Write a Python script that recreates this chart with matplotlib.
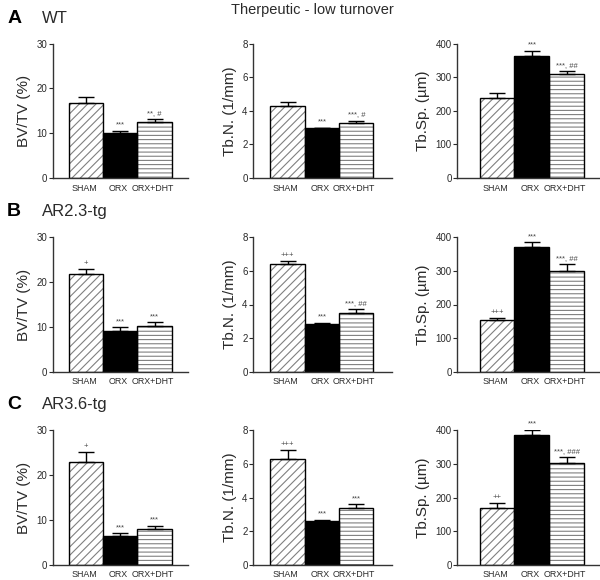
import numpy as np
import matplotlib.pyplot as plt

plt.rcParams['font.family'] = ['Liberation Sans', 'DejaVu Sans']
plt.rcParams['hatch.linewidth'] = 0.8

groups = ['SHAM', 'ORX', 'ORX+DHT']

# row A - WT
wt_bvtv = [16.7, 10.0, 12.5]
wt_bvtv_err = [1.4, 0.6, 0.6]
wt_bvtv_sig = ['', '***', '**, #']
wt_tbn = [4.3, 2.95, 3.3]
wt_tbn_err = [0.25, 0.05, 0.12]
wt_tbn_sig = ['', '***', '***, #']
wt_tbsp = [239, 362, 308]
wt_tbsp_err = [13, 16, 9]
wt_tbsp_sig = ['', '***', '***, ##']

# row B - AR2.3-tg
ar23_bvtv = [21.7, 9.0, 10.3]
ar23_bvtv_err = [1.2, 0.9, 0.8]
ar23_bvtv_sig = ['+', '***', '***']
ar23_tbn = [6.4, 2.85, 3.5]
ar23_tbn_err = [0.18, 0.07, 0.24]
ar23_tbn_sig = ['+++', '***', '***, ##']
ar23_tbsp = [155, 371, 301]
ar23_tbsp_err = [4, 15, 20]
ar23_tbsp_sig = ['+++', '***', '***, ##']

# row C - AR3.6-tg
ar36_bvtv = [23.0, 6.4, 8.1]
ar36_bvtv_err = [2.2, 0.7, 0.6]
ar36_bvtv_sig = ['+', '***', '***']
ar36_tbn = [6.32, 2.61, 3.4]
ar36_tbn_err = [0.5, 0.09, 0.2]
ar36_tbn_sig = ['+++', '***', '***']
ar36_tbsp = [168, 387, 304]
ar36_tbsp_err = [15, 15, 17]
ar36_tbsp_sig = ['++', '***', '***, ###']

rows = [
    [(wt_bvtv, wt_bvtv_err, wt_bvtv_sig), (wt_tbn, wt_tbn_err, wt_tbn_sig), (wt_tbsp, wt_tbsp_err, wt_tbsp_sig)],
    [(ar23_bvtv, ar23_bvtv_err, ar23_bvtv_sig), (ar23_tbn, ar23_tbn_err, ar23_tbn_sig), (ar23_tbsp, ar23_tbsp_err, ar23_tbsp_sig)],
    [(ar36_bvtv, ar36_bvtv_err, ar36_bvtv_sig), (ar36_tbn, ar36_tbn_err, ar36_tbn_sig), (ar36_tbsp, ar36_tbsp_err, ar36_tbsp_sig)],
]
row_letters = ['A', 'B', 'C']
row_names = ['WT', 'AR2.3-tg', 'AR3.6-tg']
ylabels = ['BV/TV (%)', 'Tb.N. (1/mm)', 'Tb.Sp. (\u00b5m)']
ylims = [30, 8, 400]
yticks = [[0, 10, 20, 30], [0, 2, 4, 6, 8], [0, 100, 200, 300, 400]]

txt = '#2a2a2a'
fig = plt.figure(figsize=(6, 5.8), dpi=100)

col_left = [0.088, 0.422, 0.762]
col_width = [0.225, 0.232, 0.238]
col_xlim = [(-0.97, 2.97), (-1.0, 3.05), (-1.14, 2.95)]
row_bottom = [0.693, 0.359, 0.026]
row_height = 0.232

hatches = ['////', '', '----']
faces = ['white', 'black', 'white']

for r in range(3):
    for c in range(3):
        vals, errs, sigs = rows[r][c]
        ax = fig.add_axes([col_left[c], row_bottom[r], col_width[c], row_height])
        x = np.arange(3)
        ax.bar(x, vals, width=1.0, color=faces, linewidth=0)
        for i in range(3):
            if hatches[i]:
                ax.bar(x[i], vals[i], width=1.0, color='white', edgecolor='#808080',
                       linewidth=0, hatch=hatches[i])
        ax.bar(x, vals, width=1.0, fill=False, edgecolor='black', linewidth=1.0)
        ax.errorbar(x, vals, yerr=[np.zeros(3), errs], fmt='none', ecolor='black',
                    elinewidth=1.0, capsize=6, capthick=1.0)
        top = ylims[c]
        for i in range(3):
            if sigs[i]:
                ax.text(x[i], vals[i] + errs[i] + top * 0.015, sigs[i], ha='center',
                        va='bottom', fontsize=5.5, color='#444444')
        ax.set_ylim(0, top)
        ax.set_xlim(*col_xlim[c])
        ax.set_yticks(yticks[c])
        ax.set_xticks(x - 0.06)
        ax.set_xticklabels(groups)
        ax.tick_params(axis='x', length=0, labelsize=6.4, colors=txt, pad=4)
        ax.tick_params(axis='y', length=3, labelsize=7, colors=txt, width=0.8, pad=1)
        ax.set_ylabel(ylabels[c], fontsize=11, color=txt, labelpad=4)
        for s in ['top', 'right']:
            ax.spines[s].set_visible(False)
        for s in ['left', 'bottom']:
            ax.spines[s].set_color('#333333')
            ax.spines[s].set_linewidth(1.0)

letter_y = [0.968, 0.635, 0.303]
for r in range(3):
    fig.text(0.012, letter_y[r], row_letters[r], fontsize=14, fontweight='bold',
             color='black', va='center')
    fig.text(0.07, letter_y[r], row_names[r], fontsize=12, color=txt, va='center')

fig.text(0.52, 0.983, 'Therpeutic - low turnover', fontsize=10.5, color=txt,
         ha='center', va='center')

fig.savefig('out.png', dpi=100)
